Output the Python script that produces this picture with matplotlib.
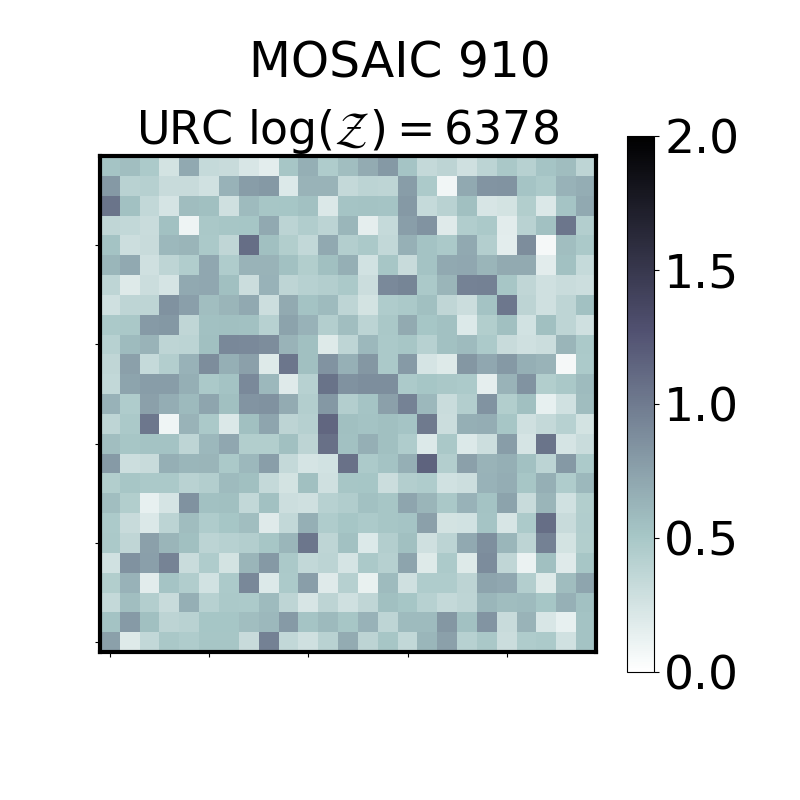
import matplotlib
matplotlib.use("Agg")
import matplotlib.pyplot as plt
import numpy as np

title_top = "MOSAIC 910"
title_sub = r"URC $\log(\mathcal{Z}) = 6378$"
cbar_ticks = [0.0, 0.5, 1.0, 1.5, 2.0]
axis_ticks = [0, 5, 10, 15, 20]

# values, top row first
grid_rows = [
    [.52, .56, .47, .25, .70, .33, .32, .22, .16, .50, .66, .46, .56, .68, .80, .52, .34, .38, .28, .39, .49, .41, .52, .57, .37],
    [.80, .40, .42, .32, .32, .27, .64, .78, .80, .20, .63, .63, .34, .39, .37, .78, .47, .08, .70, .83, .84, .52, .47, .64, .67],
    [1.04, .54, .35, .24, .57, .55, .28, .58, .50, .51, .54, .21, .52, .53, .52, .80, .33, .40, .55, .23, .25, .44, .21, .52, .70],
    [.36, .35, .31, .54, .10, .49, .50, .51, .70, .39, .45, .39, .61, .15, .33, .77, .84, .18, .45, .48, .17, .40, .54, 1.03, .43],
    [.53, .29, .32, .60, .62, .48, .36, 1.08, .55, .44, .35, .70, .43, .48, .35, .65, .53, .48, .70, .43, .16, .88, .06, .56, .48],
    [.61, .70, .28, .37, .45, .71, .46, .63, .63, .54, .44, .55, .66, .26, .50, .32, .53, .70, .71, .62, .69, .69, .17, .54, .33],
    [.37, .19, .30, .24, .70, .71, .55, .30, .64, .37, .41, .43, .48, .30, .90, .93, .48, .62, .95, .96, .50, .36, .28, .31, .29],
    [.28, .37, .37, .85, .76, .56, .62, .70, .29, .69, .53, .58, .37, .25, .46, .48, .55, .36, .30, .53, 1.02, .38, .28, .37, .54],
    [.48, .49, .79, .81, .36, .54, .55, .54, .41, .74, .64, .43, .56, .39, .49, .69, .51, .54, .20, .44, .55, .26, .55, .37, .28],
    [.41, .58, .63, .37, .39, .55, .91, .90, .88, .63, .55, .19, .37, .60, .48, .50, .41, .54, .58, .47, .32, .28, .30, .62, .48],
    [.36, .75, .33, .43, .64, .88, .66, .75, .19, 1.03, .55, .84, .65, .82, .48, .79, .24, .19, .82, .71, .80, .66, .63, .06, .47],
    [.35, .73, .78, .78, .66, .48, .53, .90, .60, .18, .41, 1.05, .85, .87, .87, .47, .51, .49, .47, .15, .63, .84, .44, .49, .58],
    [.64, .46, .75, .67, .59, .72, .55, .83, .85, .68, .43, .81, .43, .52, .75, .95, .60, .31, .43, .84, .44, .55, .14, .27, .57],
    [.37, .48, 1.02, .09, .63, .48, .21, .55, .72, .38, .42, 1.13, .55, .53, .55, .52, 1.00, .30, .66, .67, .50, .28, .34, .41, .25],
    [.56, .50, .53, .53, .37, .60, .71, .44, .44, .55, .38, 1.07, .54, .66, .55, .46, .20, .49, .20, .29, .78, .24, 1.04, .24, .31],
    [.79, .29, .32, .66, .61, .62, .48, .60, .77, .34, .24, .26, 1.06, .47, .53, .66, 1.15, .43, .75, .63, .66, .54, .39, .80, .47],
    [.44, .50, .48, .48, .40, .43, .58, .55, .34, .25, .55, .28, .50, .51, .30, .43, .46, .27, .29, .64, .67, .50, .66, .46, .60],
    [.56, .44, .14, .24, .85, .54, .55, .35, .54, .29, .28, .41, .45, .54, .50, .72, .62, .49, .64, .53, .74, .32, .62, .27, .44],
    [.47, .32, .21, .39, .57, .46, .51, .56, .18, .35, .66, .46, .51, .47, .50, .52, .75, .25, .26, .52, .23, .47, 1.08, .32, .45],
    [.48, .36, .75, .62, .55, .39, .41, .43, .50, .61, 1.03, .37, .54, .20, .43, .55, .28, .39, .70, .86, .61, .38, .96, .25, .44],
    [.27, .85, .76, .94, .31, .46, .25, .62, .80, .48, .35, .39, .24, .48, .42, .73, .19, .47, .19, .89, .36, .11, .55, .18, .50],
    [.44, .64, .17, .52, .45, .26, .47, .91, .20, .47, .77, .18, .42, .13, .58, .28, .46, .46, .38, .73, .71, .43, .19, .57, .72],
    [.34, .56, .43, .32, .66, .41, .48, .47, .58, .37, .23, .38, .28, .36, .55, .51, .41, .34, .37, .61, .57, .58, .51, .65, .54],
    [.53, .79, .55, .38, .40, .51, .51, .56, .60, .79, .52, .59, .50, .64, .37, .58, .58, .82, .54, .83, .32, .63, .22, .14, .53],
    [.75, .19, .35, .49, .46, .50, .50, .32, .96, .35, .28, .40, .68, .38, .50, .35, .61, .75, .41, .49, .30, .46, .47, .27, .53],
]

fig = plt.figure(figsize=(8, 8), dpi=100)
ax = fig.add_axes([0.125, 0.185, 0.62, 0.62])
im = ax.imshow(np.flipud(np.array(grid_rows)), origin='lower', cmap='bone_r',
               vmin=0, vmax=2, interpolation='nearest')

ax.set_xticks(axis_ticks)
ax.set_yticks(axis_ticks)
ax.set_xticklabels([])
ax.set_yticklabels([])
for spine in ax.spines.values():
    spine.set_linewidth(3)
ax.set_title(title_sub, fontsize=33, pad=5)

fig.text(0.5, 0.9205, title_top, fontsize=35, ha='center', va='center')

cax = fig.add_axes([0.784, 0.16, 0.034, 0.67])
cbar = fig.colorbar(im, cax=cax)
cbar.set_ticks(cbar_ticks)
cbar.ax.tick_params(labelsize=34)

plt.savefig('out.png', dpi=100)
